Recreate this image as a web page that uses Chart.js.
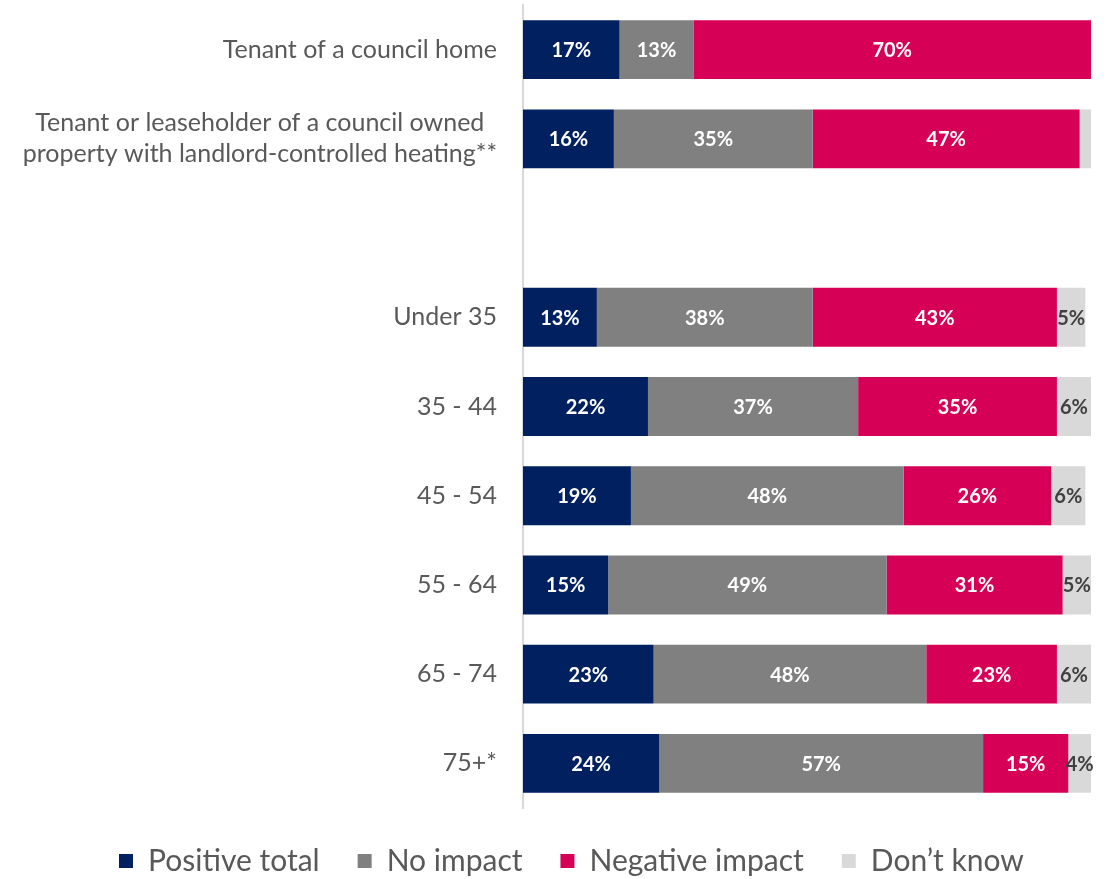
<!DOCTYPE html>
<html>
<head>
<meta charset="utf-8">
<title>Impact by tenure and age</title>
<script src="https://cdn.jsdelivr.net/npm/chart.js@4.4.1/dist/chart.umd.min.js"></script>
<style>
  html, body { margin: 0; padding: 0; background: #fff; }
  #wrap { width: 1112px; height: 879px; }
</style>
</head>
<body>
<div id="wrap"><canvas id="chart" width="1112" height="879"></canvas></div>
<script>
// --- data ---
const categories = [
    ['Tenant of a council home'],
    ['Tenant or leaseholder of a council owned', 'property with landlord-controlled heating**'],
    [''],
    ['Under 35'],
    ['35 - 44'],
    ['45 - 54'],
    ['55 - 64'],
    ['65 - 74'],
    ['75+*']
];
const positiveTotal  = [17, 16, null, 13, 22, 19, 15, 23, 24];
const noImpact       = [13, 35, null, 38, 37, 48, 49, 48, 57];
const negativeImpact = [70, 47, null, 43, 35, 26, 31, 23, 15];
const dontKnow       = [0,  2,  null, 5,  6,  6,  5,  6,  4];

const seriesNames  = ['Positive total', 'No impact', 'Negative impact', 'Don\u2019t know'];
const seriesColors = ['#002060', '#808080', '#D60057', '#D9D9D9'];
const labelColors  = ['#FFFFFF', '#FFFFFF', '#FFFFFF', '#404040'];

const FONT = 'Lato, "Open Sans", sans-serif';
const PAD_LEFT = 81;   // also where the legend row starts

// category labels: lines of a wrapped label are centred on each other, block right-aligned
const categoryLabels = {
    id: 'categoryLabels',
    afterDraw(chart) {
        const ctx = chart.ctx;
        const y = chart.scales.y;
        const rightEdge = chart.chartArea.left - 26;
        const lineH = 31;
        ctx.save();
        ctx.font = '25px ' + FONT;
        ctx.fillStyle = '#595959';
        ctx.textAlign = 'center';
        ctx.textBaseline = 'middle';
        categories.forEach((lines, i) => {
            const widest = Math.max(...lines.map(l => ctx.measureText(l).width));
            const cx = rightEdge - widest / 2;
            const cy = y.getPixelForValue(i) - (lines.length - 1) * lineH / 2;
            lines.forEach((l, k) => ctx.fillText(l, cx, cy + k * lineH));
        });
        ctx.restore();
    }
};

// percentage labels inside each bar segment (tiny slivers stay unlabelled)
const barValueLabels = {
    id: 'barValueLabels',
    afterDatasetsDraw(chart) {
        const ctx = chart.ctx;
        ctx.save();
        ctx.font = 'bold 20px ' + FONT;
        ctx.textAlign = 'center';
        ctx.textBaseline = 'middle';
        chart.data.datasets.forEach((ds, di) => {
            const meta = chart.getDatasetMeta(di);
            meta.data.forEach((bar, i) => {
                const v = ds.data[i];
                if (v == null || v < 3) return;
                const left = Math.min(bar.x, bar.base);
                const right = Math.max(bar.x, bar.base);
                ctx.fillStyle = labelColors[di];
                ctx.fillText(v + '%', (left + right) / 2, bar.y + 1);
            });
        });
        ctx.restore();
    }
};

const seriesData = [positiveTotal, noImpact, negativeImpact, dontKnow];

new Chart(document.getElementById('chart'), {
    type: 'bar',
    data: {
        labels: categories.map(c => c.join(' ')),
        datasets: seriesNames.map((name, i) => ({
            label: name,
            data: seriesData[i],
            backgroundColor: seriesColors[i],
            borderWidth: 0,
            categoryPercentage: 1.0,
            barPercentage: 0.66
        }))
    },
    options: {
        indexAxis: 'y',
        responsive: false,
        animation: false,
        layout: { padding: { top: 5, right: 21, left: PAD_LEFT, bottom: 0 } },
        scales: {
            x: { stacked: true, min: 0, max: 100, display: false },
            y: {
                stacked: true,
                grid: { display: false },
                border: { display: true, color: '#D9D9D9', width: 2 },
                ticks: { display: false },
                afterFit(scale) { scale.width = 523 - PAD_LEFT; }
            }
        },
        plugins: {
            legend: {
                position: 'bottom',
                align: 'start',
                maxHeight: 71,
                labels: {
                    boxWidth: 14,
                    boxHeight: 14,
                    padding: 38,
                    color: '#595959',
                    font: { family: FONT, size: 30 }
                }
            },
            tooltip: { enabled: false }
        }
    },
    plugins: [categoryLabels, barValueLabels]
});
</script>
</body>
</html>
